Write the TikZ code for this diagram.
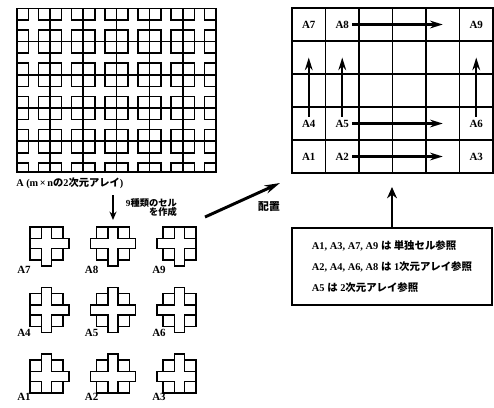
\documentclass[tikz,border=0pt]{standalone}
\usepackage{fontspec}
\setmainfont{Liberation Serif}
\newfontfamily\jpfont{Noto Sans CJK JP}
\usetikzlibrary{arrows.meta, positioning}
\newcommand{\ja}[1]{{\jpfont\bfseries #1}}
\newcommand{\crosscell}[6]{%
  \begin{scope}[shift={(#1,#2)}]
    \draw[cellline] (0,0) -- (0.29,0) -- (0.29,0.15*#3) -- (0.54,0.15*#3) -- (0.54,0) -- (0.83,0)
      -- (0.83,-0.29) -- (0.83+0.15*#4,-0.29) -- (0.83+0.15*#4,-0.54) -- (0.83,-0.54) -- (0.83,-0.83)
      -- (0.54,-0.83) -- (0.54,-0.83-0.15*#5) -- (0.29,-0.83-0.15*#5) -- (0.29,-0.83) -- (0,-0.83)
      -- (0,-0.54) -- (-0.15*#6,-0.54) -- (-0.15*#6,-0.29) -- (0,-0.29) -- cycle;
    \draw[cellline] (0.29,0) -- (0.29,-0.29) -- (0,-0.29)
      (0.54,0) -- (0.54,-0.29) -- (0.83,-0.29)
      (0.54,-0.83) -- (0.54,-0.54) -- (0.83,-0.54)
      (0.29,-0.83) -- (0.29,-0.54) -- (0,-0.54);
  \end{scope}}

\begin{document}
\begin{tikzpicture}[
    cellline/.style={line width=1.1pt},
    gridcell/.style={draw, line width=0.9pt, minimum width=0.8375cm, minimum height=0.825cm, inner sep=0pt},
    lbl/.style={font=\fontsize{7.8}{8}\selectfont\bfseries, inner sep=2pt},
    jtxt/.style={font=\fontsize{6.6}{7}\selectfont\bfseries, inner sep=0pt},
    notebox/.style={draw, line width=0.8pt, minimum width=5cm, minimum height=1.925cm,
        align=left, font=\fontsize{7.4}{14.9}\selectfont\bfseries},
    arr/.style={-{Stealth[length=9pt, width=5.5pt]}, line width=1.6pt},
    thick_arr/.style={-{Stealth[length=8pt, width=7pt]}, line width=2.1pt}
  ]
  \useasboundingbox (0,0) rectangle (12.35,-10.175);

  \begin{scope}
    \clip (0.42,-0.21) rectangle (5.40,-4.3);
    \foreach \i in {0,...,5}
      \foreach \j in {0,...,4} {
        \begin{scope}[shift={(0.42+0.83*\i,-0.21-0.83*\j)}]
          \draw[cellline] (0,0) rectangle (0.83,-0.83);
          \draw[cellline] (0,0) rectangle (0.29,-0.29) (0.54,0) rectangle (0.83,-0.29)
            (0,-0.54) rectangle (0.29,-0.83) (0.54,-0.54) rectangle (0.83,-0.83);
        \end{scope}
      }
  \end{scope}
  \draw[cellline] (0.42,-0.21) rectangle (5.40,-4.3);
  \node[lbl, anchor=west, inner sep=0pt, font=\fontsize{7.3}{8}\selectfont\bfseries] (arr_lbl) at (0.4,-4.575)
    {A (m\,×\,n\ja{の}2\ja{次元アレイ})};

  \coordinate (split_from) at (2.825,-4.875);
  \coordinate (split_to) at (2.825,-5.5);
  \draw[thick_arr, -{Stealth[length=6pt, width=5pt]}] (split_from) -- (split_to);
  \node[jtxt, anchor=east, align=right] (split_lbl) at (4.43,-5.19) {9\ja{種類のセル}\\\ja{を作成}};

  \crosscell{0.75}{-5.675}{0}{1}{1}{0}
  \crosscell{2.4125}{-5.675}{0}{1}{1}{1}
  \crosscell{4.075}{-5.675}{0}{0}{1}{1}
  \crosscell{0.75}{-7.3375}{1}{1}{1}{0}
  \crosscell{2.4125}{-7.3375}{1}{1}{1}{1}
  \crosscell{4.075}{-7.3375}{1}{0}{1}{1}
  \crosscell{0.75}{-9.0}{1}{1}{0}{0}
  \crosscell{2.4125}{-9.0}{1}{1}{0}{1}
  \crosscell{4.075}{-9.0}{1}{0}{0}{1}
  \node[lbl] (a7) at (0.6,-6.75) {A7};
  \node[lbl] (a8) at (2.29,-6.75) {A8};
  \node[lbl] (a9) at (3.975,-6.75) {A9};
  \node[lbl] (a4) at (0.6,-8.325) {A4};
  \node[lbl] (a5) at (2.29,-8.325) {A5};
  \node[lbl] (a6) at (3.975,-8.325) {A6};
  \node[lbl] (a1) at (0.6,-9.925) {A1};
  \node[lbl] (a2) at (2.29,-9.925) {A2};
  \node[lbl] (a3) at (3.975,-9.925) {A3};

  \coordinate (place_from) at (5.125,-5.425);
  \coordinate (place_to) at (7.0,-4.575);
  \draw[thick_arr, -{Stealth[length=11pt, width=6pt]}] (place_from) -- (place_to);
  \node[jtxt, font=\fontsize{7.7}{8}\selectfont\bfseries] (place_lbl) at (6.725,-5.16) {\ja{配置}};

  \foreach \c in {1,...,6}
    \foreach \r in {1,...,5}
      \node[gridcell] (g_\c_\r) at ({7.3+0.8375*(\c-0.5)},{-0.2-0.825*(\r-0.5)}) {};
  \node[lbl] (r_a7) at (g_1_1) {A7};
  \node[lbl] (r_a8) at (g_2_1) {A8};
  \node[lbl] (r_a9) at (g_6_1) {A9};
  \node[lbl] (r_a4) at (g_1_4) {A4};
  \node[lbl] (r_a5) at (g_2_4) {A5};
  \node[lbl] (r_a6) at (g_6_4) {A6};
  \node[lbl] (r_a1) at (g_1_5) {A1};
  \node[lbl] (r_a2) at (g_2_5) {A2};
  \node[lbl] (r_a3) at (g_6_5) {A3};

  \draw[arr] (r_a8) -- (g_5_1.center);
  \draw[arr] (r_a5) -- (g_5_4.center);
  \draw[arr] (r_a2) -- (g_5_5.center);
  \draw[arr] (r_a4) -- (g_1_2.center);
  \draw[arr] (r_a5) -- (g_2_2.center);
  \draw[arr] (r_a6) -- (g_6_2.center);

  \node[notebox] (note) at (9.8,-6.6625) {A1, A3, A7, A9 \ja{は 単独セル参照}\\
    A2, A4, A6, A8 \ja{は} 1\ja{次元アレイ参照}\\
    A5 \ja{は} 2\ja{次元アレイ参照}};
  \coordinate (grid_in) at (9.8,-4.675);
  \draw[thick_arr] (note.north) -- (grid_in);
\end{tikzpicture}
\end{document}
